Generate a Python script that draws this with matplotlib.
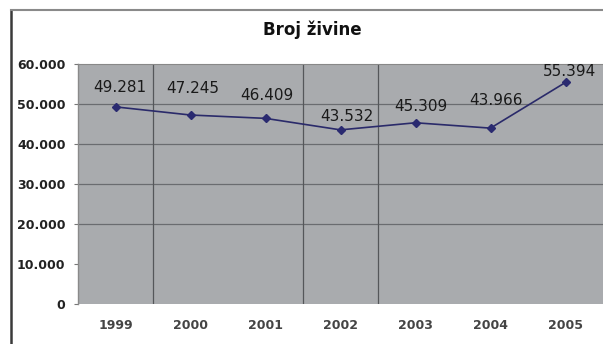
import numpy as np
import matplotlib.pyplot as plt
from matplotlib.lines import Line2D

years = ["1999", "2000", "2001", "2002", "2003", "2004", "2005"]
values = [49281, 47245, 46409, 43532, 45309, 43966, 55394]
yticks = [0, 10000, 20000, 30000, 40000, 50000, 60000]
ytick_labels = ["0", "10.000", "20.000", "30.000", "40.000", "50.000", "60.000"]
vgrid_pos = [0.5, 2.5, 3.5]  # visible category separators

# label placement (pixels from point), as seen in the original
lab_dx = [4, 2, 1, 6, 5, 5, 4]
lab_dy = [19, 27, 23, 13, 16, 28, 11]


def fmt(v):
    return "{:,}".format(v).replace(",", ".")


fig = plt.figure(figsize=(6.03, 3.44), dpi=100)
fig.patch.set_facecolor("white")

# outer chart frame
fig.add_artist(Line2D([11/603, 11/603], [0, 1 - 10/344], transform=fig.transFigure,
                      color="#3a3a3a", lw=1.8))
fig.add_artist(Line2D([11/603, 1], [1 - 10/344, 1 - 10/344], transform=fig.transFigure,
                      color="#8a8a8a", lw=1.5))

ax = fig.add_axes([78/603, 1 - 304/344, 1 - 78/603, 240/344])
ax.set_facecolor("#a9abae")
x = np.arange(len(years))
ax.set_xlim(-0.5, len(years) - 0.5)
ax.set_ylim(0, 60000)

for yv in yticks[2:-1]:
    ax.axhline(yv, color="#6a6c70", lw=0.9, zorder=1)
for xv in vgrid_pos:
    ax.axvline(xv, color="#55575a", lw=0.9, zorder=1)

ax.plot(x, values, color="#2a2a6a", lw=1.2, marker="D", markersize=4,
        markerfacecolor="#2a2a70", markeredgecolor="#2a2a70", zorder=3)

for xi, v, dx, dy in zip(x, values, lab_dx, lab_dy):
    ax.annotate(fmt(v), (xi, v), xytext=(dx, dy), textcoords="offset pixels",
                ha="center", va="center", fontsize=11, color="#1a1a1a")

ax.set_xticks(x)
ax.set_xticklabels(years, fontsize=9, color="#444444", fontweight="bold")
ax.set_yticks(yticks)
ax.set_yticklabels(ytick_labels, fontsize=9, color="#222222", fontweight="bold")
ax.tick_params(axis="x", length=0, pad=11)
ax.tick_params(axis="y", length=3, color="#777777", pad=6)

for s in ["right", "bottom"]:
    ax.spines[s].set_visible(False)
ax.spines["top"].set_color("#888888")
ax.spines["left"].set_color("#8a8a8a")
ax.spines["left"].set_linewidth(1.0)

fig.text(312/603, 1 - 30/344, "Broj živine", ha="center", va="center",
         fontsize=12, fontweight="bold", color="#111111")

fig.savefig("out.png", dpi=100)
